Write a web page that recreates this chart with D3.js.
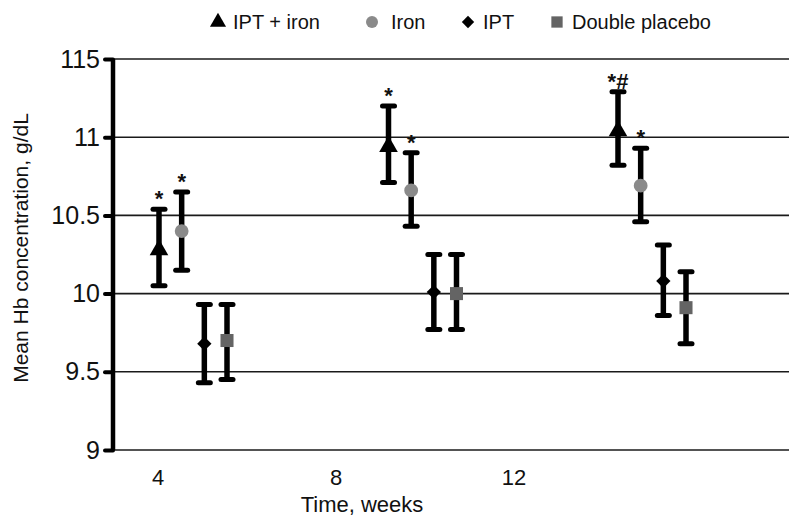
<!DOCTYPE html>
<html>
<head>
<meta charset="utf-8">
<script src="https://cdn.jsdelivr.net/npm/d3@7"></script>
<style>
  body { margin: 0; background: #fff; }
  text { font-family: "Liberation Sans", Arial, sans-serif; fill: #111; }
</style>
</head>
<body>
<div id="root"></div>
<script>
// data
const weeks = [4, 8, 12];
const seriesNames = ["IPT + iron", "Iron", "IPT", "Double placebo"];

const iptIronMean = [10.28, 10.94, 11.04];
const iptIronLow = [10.05, 10.71, 10.82];
const iptIronHigh = [10.54, 11.2, 11.29];

const ironMean = [10.4, 10.66, 10.69];
const ironLow = [10.15, 10.43, 10.46];
const ironHigh = [10.65, 10.9, 10.93];

const iptMean = [9.68, 10.01, 10.08];
const iptLow = [9.43, 9.77, 9.86];
const iptHigh = [9.93, 10.25, 10.31];

const placeboMean = [9.7, 10.0, 9.91];
const placeboLow = [9.45, 9.77, 9.68];
const placeboHigh = [9.93, 10.25, 10.14];

const iptIronMarks = ["*", "*", "*#"];
const ironMarks = ["*", "*", "*"];

const yTickValues = [9, 9.5, 10, 10.5, 11, 11.5];
const yTickLabels = ["9", "9.5", "10", "10.5", "11", "115"];

const width = 789,
  height = 519;

const series = [
  { name: seriesNames[0], mean: iptIronMean, low: iptIronLow, high: iptIronHigh, marks: iptIronMarks, symbol: d3.symbolTriangle, size: 150, fill: "#000" },
  { name: seriesNames[1], mean: ironMean, low: ironLow, high: ironHigh, marks: ironMarks, symbol: d3.symbolCircle, size: 150, fill: "#8a8a8a" },
  { name: seriesNames[2], mean: iptMean, low: iptLow, high: iptHigh, marks: null, symbol: d3.symbolDiamond2, size: 130, fill: "#000" },
  { name: seriesNames[3], mean: placeboMean, low: placeboLow, high: placeboHigh, marks: null, symbol: d3.symbolSquare, size: 170, fill: "#646464" },
];

const svg = d3.select("#root").append("svg")
  .attr("width", width)
  .attr("height", height)
  .attr("viewBox", [0, 0, width, height]);

const axisX = 113;
const yScale = d3.scaleLinear().domain([9, 11.5]).range([450, 59]);
const groupScale = d3.scaleLinear().domain([4, 12]).range([159, 618]);
const offsetScale = d3.scalePoint().domain(seriesNames).range([0, 68]);
const labelScale = d3.scaleLinear().domain([4, 12]).range([158, 514]);

// gridlines
svg.append("g")
  .selectAll("line")
  .data(yTickValues)
  .join("line")
  .attr("x1", axisX)
  .attr("x2", width)
  .attr("y1", (d) => yScale(d))
  .attr("y2", (d) => yScale(d))
  .attr("stroke", "#1a1a1a")
  .attr("stroke-width", 1.6);

// y axis
const yAxis = d3.axisLeft(yScale)
  .tickValues(yTickValues)
  .tickFormat((d, i) => yTickLabels[i])
  .tickSize(8)
  .tickPadding(5);

const yAxisG = svg.append("g")
  .attr("transform", `translate(${axisX},0)`)
  .call(yAxis);
yAxisG.select(".domain").remove();
yAxisG.selectAll(".tick line")
  .attr("stroke", "#000")
  .attr("stroke-width", 4)
  .attr("stroke-linecap", "round");
yAxisG.selectAll(".tick text")
  .style("font-size", "25px")
  .attr("fill", "#111");

svg.append("line")
  .attr("x1", axisX).attr("x2", axisX)
  .attr("y1", yScale(11.5)).attr("y2", yScale(9))
  .attr("stroke", "#000")
  .attr("stroke-width", 4.5);

// x labels
svg.append("g")
  .selectAll("text")
  .data(weeks)
  .join("text")
  .attr("x", (d) => labelScale(d))
  .attr("y", 485)
  .attr("text-anchor", "middle")
  .style("font-size", "22px")
  .text((d) => d);

svg.append("text")
  .attr("x", 362)
  .attr("y", 512)
  .attr("text-anchor", "middle")
  .style("font-size", "22px")
  .text("Time, weeks");

svg.append("text")
  .attr("transform", `translate(28,${248}) rotate(-90)`)
  .attr("text-anchor", "middle")
  .style("font-size", "21px")
  .text("Mean Hb concentration, g/dL");

// error bars and markers
const groups = svg.append("g")
  .selectAll("g")
  .data(series)
  .join("g");

groups.each(function (s) {
  const g = d3.select(this);
  const xs = weeks.map((w) => groupScale(w) + offsetScale(s.name));
  const pts = weeks.map((w, i) => ({ x: xs[i], mean: s.mean[i], low: s.low[i], high: s.high[i], mark: s.marks ? s.marks[i] : null }));

  g.selectAll(".bar")
    .data(pts)
    .join("line")
    .attr("class", "bar")
    .attr("x1", (d) => d.x).attr("x2", (d) => d.x)
    .attr("y1", (d) => yScale(d.high)).attr("y2", (d) => yScale(d.low))
    .attr("stroke", "#000")
    .attr("stroke-width", 5.5);

  const caps = pts.flatMap((d) => [{ x: d.x, v: d.high }, { x: d.x, v: d.low }]);
  g.selectAll(".cap")
    .data(caps)
    .join("line")
    .attr("class", "cap")
    .attr("x1", (d) => d.x - 6).attr("x2", (d) => d.x + 6)
    .attr("y1", (d) => yScale(d.v)).attr("y2", (d) => yScale(d.v))
    .attr("stroke", "#000")
    .attr("stroke-width", 5)
    .attr("stroke-linecap", "round");

  g.selectAll(".pt")
    .data(pts)
    .join("path")
    .attr("class", "pt")
    .attr("transform", (d) => `translate(${d.x},${yScale(d.mean)})`)
    .attr("d", d3.symbol(s.symbol, s.size))
    .attr("fill", s.fill);

  g.selectAll(".mark")
    .data(pts.filter((d) => d.mark))
    .join("text")
    .attr("class", "mark")
    .attr("x", (d) => d.x)
    .attr("y", (d) => yScale(d.high) - 3)
    .attr("text-anchor", "middle")
    .style("font-size", "22px")
    .style("font-weight", "bold")
    .text((d) => d.mark);
});

// legend
const legendX = [218, 372, 468, 557];
const legend = svg.append("g")
  .selectAll("g")
  .data(series)
  .join("g")
  .attr("transform", (d, i) => `translate(${legendX[i]},22)`);

legend.append("path")
  .attr("d", (d) => d3.symbol(d.symbol, d.size * 0.75)())
  .attr("fill", (d) => d.fill);

legend.append("text")
  .attr("x", (d, i) => (i === 1 ? 19 : 15))
  .attr("y", 7)
  .style("font-size", "20px")
  .text((d) => d.name);
</script>
</body>
</html>
